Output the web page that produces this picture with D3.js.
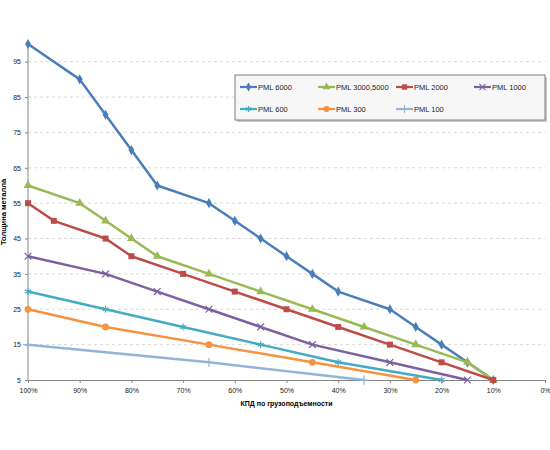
<!DOCTYPE html>
<html>
<head>
<meta charset="utf-8">
<script src="https://cdn.jsdelivr.net/npm/d3@7"></script>
<style>
  body { margin: 0; background: #fff; }
  text { font-family: "Liberation Sans", Arial, sans-serif; }
</style>
</head>
<body>
<svg id="chart" width="550" height="450"></svg>
<script>
// КПД (доля) и толщина для каждой серии
var eff6000 = [1.00, 0.90, 0.85, 0.80, 0.75, 0.65, 0.60, 0.55, 0.50, 0.45, 0.40, 0.30, 0.25, 0.20, 0.15, 0.10];
var val6000 = [100, 90, 80, 70, 60, 55, 50, 45, 40, 35, 30, 25, 20, 15, 10, 5];
var eff3000 = [1.00, 0.90, 0.85, 0.80, 0.75, 0.65, 0.55, 0.45, 0.35, 0.25, 0.15, 0.10];
var val3000 = [60, 55, 50, 45, 40, 35, 30, 25, 20, 15, 10, 5];
var eff2000 = [1.00, 0.95, 0.85, 0.80, 0.70, 0.60, 0.50, 0.40, 0.30, 0.20, 0.10];
var val2000 = [55, 50, 45, 40, 35, 30, 25, 20, 15, 10, 5];
var eff1000 = [1.00, 0.85, 0.75, 0.65, 0.55, 0.45, 0.30, 0.15];
var val1000 = [40, 35, 30, 25, 20, 15, 10, 5];
var eff600 = [1.00, 0.85, 0.70, 0.55, 0.40, 0.20];
var val600 = [30, 25, 20, 15, 10, 5];
var eff300 = [1.00, 0.85, 0.65, 0.45, 0.25];
var val300 = [25, 20, 15, 10, 5];
var eff100 = [1.00, 0.65, 0.35];
var val100 = [15, 10, 5];

var names = ["PML 6000", "PML 3000,5000", "PML 2000", "PML 1000", "PML 600", "PML 300", "PML 100"];
var yTicks = [5, 15, 25, 35, 45, 55, 65, 75, 85, 95];
var xTicks = [1, 0.9, 0.8, 0.7, 0.6, 0.5, 0.4, 0.3, 0.2, 0.1, 0];

var series = [
  {name: names[0], eff: eff6000, val: val6000, color: "#4a7ebb", sym: d3.symbolDiamond, size: 30, fill: true},
  {name: names[1], eff: eff3000, val: val3000, color: "#98b954", sym: d3.symbolTriangle, size: 34, fill: true},
  {name: names[2], eff: eff2000, val: val2000, color: "#be4b48", sym: d3.symbolSquare, size: 36, fill: true},
  {name: names[3], eff: eff1000, val: val1000, color: "#7d60a0", sym: d3.symbolTimes, size: 32, fill: false},
  {name: names[4], eff: eff600, val: val600, color: "#46aac5", sym: d3.symbolAsterisk, size: 32, fill: false},
  {name: names[5], eff: eff300, val: val300, color: "#f69240", sym: d3.symbolCircle, size: 36, fill: true},
  {name: names[6], eff: eff100, val: val100, color: "#95b3d7", sym: d3.symbolPlus, size: 30, fill: false}
];

var svg = d3.select("#chart");
var plotL = 28, plotR = 545, plotT = 44, plotB = 380;

var x = d3.scaleLinear().domain([1, 0]).range([plotL, plotR]);
var y = d3.scaleLinear().domain([5, 100]).range([plotB, plotT]);

// сетка
svg.append("g").selectAll("line")
  .data(yTicks.slice(1))
  .join("line")
  .attr("x1", plotL).attr("x2", plotR)
  .attr("y1", function(d) { return y(d); }).attr("y2", function(d) { return y(d); })
  .attr("stroke", "#d9d9d9").attr("stroke-dasharray", "3,3").attr("stroke-width", 1);

// оси
var xAxis = svg.append("g")
  .attr("transform", "translate(0," + plotB + ")")
  .call(d3.axisBottom(x).tickValues(xTicks).tickFormat(d3.format(".0%")).tickSize(3).tickPadding(5));
var yAxis = svg.append("g")
  .attr("transform", "translate(" + plotL + ",0)")
  .call(d3.axisLeft(y).tickValues(yTicks).tickSize(3).tickPadding(4));
[xAxis, yAxis].forEach(function(a) {
  a.select(".domain").attr("stroke", "#868686");
  a.selectAll(".tick line").attr("stroke", "#868686");
  a.selectAll(".tick text").attr("font-size", "7px").attr("fill", "#222");
});
yAxis.select(".domain").attr("d", "M0," + plotB + "V" + plotT);

// подписи осей
svg.append("text")
  .attr("x", (plotL + plotR) / 2).attr("y", 406)
  .attr("text-anchor", "middle").attr("font-size", "7px").attr("font-weight", "bold")
  .text("КПД по грузоподъемности");
svg.append("text")
  .attr("transform", "translate(6," + (plotT + plotB) / 2 + ") rotate(-90)")
  .attr("text-anchor", "middle").attr("font-size", "7.5px").attr("font-weight", "bold")
  .text("Толщина металла");

// линии (последние серии поверх)
var line = d3.line().x(function(d) { return x(d[0]); }).y(function(d) { return y(d[1]); });

series.forEach(function(s) {
  var pts = d3.zip(s.eff, s.val);
  var g = svg.append("g");
  g.append("path").datum(pts)
    .attr("d", line).attr("fill", "none")
    .attr("stroke", s.color).attr("stroke-width", 2.5).attr("stroke-linejoin", "round");
  g.selectAll("path.m").data(pts).join("path")
    .attr("class", "m")
    .attr("transform", function(d) { return "translate(" + x(d[0]) + "," + y(d[1]) + ")"; })
    .attr("d", d3.symbol().type(s.sym).size(s.size))
    .attr("fill", s.fill ? s.color : "none")
    .attr("stroke", s.color).attr("stroke-width", s.fill ? 0 : 1.2);
});

// легенда
var lg = svg.append("g");
lg.append("rect").attr("x", 237).attr("y", 77).attr("width", 310).attr("height", 45).attr("fill", "#c8c8c8");
lg.append("rect").attr("x", 235).attr("y", 75).attr("width", 310).attr("height", 45)
  .attr("fill", "#f7f7f7").attr("stroke", "#7f7f7f").attr("stroke-width", 1);
series.forEach(function(s, i) {
  var col = i < 4 ? i : i - 4, row = i < 4 ? 0 : 1;
  var lx = 240 + col * 78, ly = 87 + row * 22;
  var item = lg.append("g");
  item.append("line").attr("x1", lx).attr("x2", lx + 17).attr("y1", ly).attr("y2", ly)
    .attr("stroke", s.color).attr("stroke-width", 2.2);
  item.append("path")
    .attr("transform", "translate(" + (lx + 8.5) + "," + ly + ")")
    .attr("d", d3.symbol().type(s.sym).size(s.size * 0.8))
    .attr("fill", s.fill ? s.color : "none")
    .attr("stroke", s.color).attr("stroke-width", s.fill ? 0 : 1.1);
  item.append("text").attr("x", lx + 18).attr("y", ly + 2.6)
    .attr("font-size", "7.5px").attr("fill", "#222").text(s.name);
});
</script>
</body>
</html>
